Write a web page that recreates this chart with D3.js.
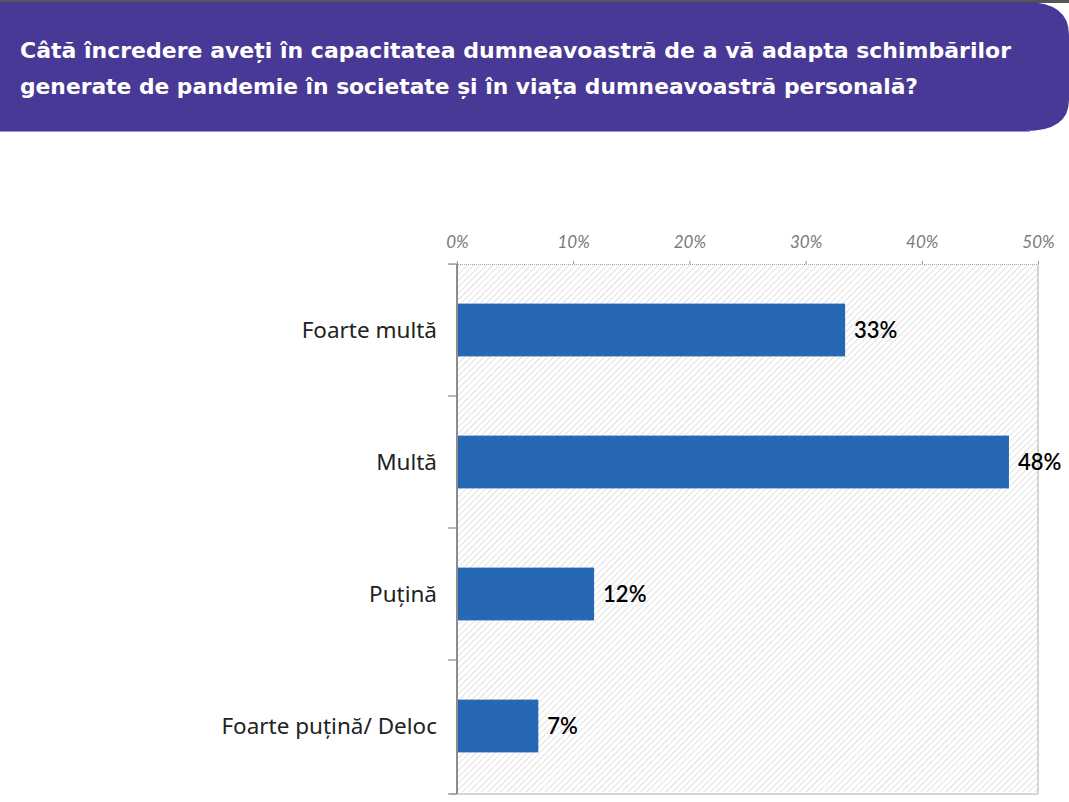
<!DOCTYPE html>
<html><head><meta charset="utf-8">
<script src="https://cdn.jsdelivr.net/npm/d3@7"></script>
<style>body{margin:0;background:#fff;overflow:hidden}svg{display:block}</style>
</head><body>
<script>
const titleLines = ["Câtă încredere aveți în capacitatea dumneavoastră de a vă adapta schimbărilor",
                    "generate de pandemie în societate și în viața dumneavoastră personală?"];
const categories = ["Foarte multă", "Multă", "Puțină", "Foarte puțină/ Deloc"];
const values = [33.4, 47.5, 11.8, 7.0];
const valueLabels = ["33%", "48%", "12%", "7%"];
const tickValues = [0, 10, 20, 30, 40, 50];
const tickLabels = ["0%", "10%", "20%", "30%", "40%", "50%"];

const W = 1069, H = 802;
const svg = d3.select("body").append("svg").attr("width", W).attr("height", H);

// Banner
svg.append("rect").attr("x",0).attr("y",0).attr("width",W).attr("height",3).attr("fill","#555");
svg.append("path")
  .attr("d", `M0,2 H1025 Q1069,2 1069,35 V100 Q1069,131 1025,131 H0 Z`)
  .attr("fill", "#483996");
svg.append("line").attr("x1",0).attr("x2",1030).attr("y1",131.5).attr("y2",131.5).attr("stroke","#9a93c4").attr("stroke-width",1);

const tl = [[20, 58, 991], [20, 94, 898]];
titleLines.forEach((t,i)=>{
  svg.append("text").attr("x", tl[i][0]).attr("y", tl[i][1])
    .attr("textLength", tl[i][2]).attr("lengthAdjust","spacingAndGlyphs")
    .attr("font-family","'DejaVu Sans', sans-serif").attr("font-weight","bold")
    .attr("font-size", 22).attr("fill","#fff").text(t);
});

// Scales
const x = d3.scaleLinear().domain([0,50]).range([457, 1038]);
const y = d3.scaleBand().domain(categories).range([264, 792]).paddingInner(0.6).paddingOuter(0.3);
const yb = d3.scaleBand().domain(categories).range([264, 792]);

// Hatch pattern
const defs = svg.append("defs");
const pat = defs.append("pattern").attr("id","hatch").attr("patternUnits","userSpaceOnUse")
  .attr("width",4.5).attr("height",4.5).attr("patternTransform","rotate(45)");
pat.append("rect").attr("width",4.5).attr("height",4.5).attr("fill","#fff");
pat.append("line").attr("x1",0).attr("y1",0).attr("x2",0).attr("y2",4.5).attr("stroke","#cfcfcf").attr("stroke-width",1.2);

svg.append("rect").attr("x", x(0)).attr("y", 264).attr("width", x(50)-x(0)).attr("height", 792-264)
  .attr("fill","url(#hatch)");
// border right & bottom
svg.append("line").attr("x1",x(50)).attr("x2",x(50)).attr("y1",264).attr("y2",794).attr("stroke","#c8c8c8").attr("stroke-width",1.5);
svg.append("line").attr("x1",450).attr("x2",x(50)).attr("y1",794).attr("y2",794).attr("stroke","#c8c8c8").attr("stroke-width",1.5);
svg.append("line").attr("x1",450).attr("x2",x(50)).attr("y1",264.5).attr("y2",264.5).attr("stroke","#aaa").attr("stroke-width",1).attr("stroke-dasharray","1,1");

// Top axis
const xAxis = d3.axisTop(x).tickValues(tickValues).tickFormat((d,i)=>tickLabels[i]).tickSize(3).tickPadding(13);
const gx = svg.append("g").attr("transform","translate(0,264)").call(xAxis);
gx.select(".domain").remove();
gx.selectAll(".tick line").attr("stroke","#999");
gx.selectAll(".tick text").attr("font-family","Lato, 'Open Sans', sans-serif").attr("font-style","italic")
  .attr("font-size",17).attr("fill","#7a7a7a");

// Left axis
const gy = svg.append("g").attr("transform",`translate(${x(0)},0)`);
gy.append("line").attr("x1",0).attr("x2",0).attr("y1",264).attr("y2",794).attr("stroke","#8c8c8c").attr("stroke-width",2);
const bounds = categories.map(c=>yb(c)).concat([794]);
gy.selectAll("line.tk").data(bounds).join("line").attr("class","tk")
  .attr("x1",-9).attr("x2",0).attr("y1",d=>d).attr("y2",d=>d).attr("stroke","#8c8c8c").attr("stroke-width",1.2);

// Category labels
svg.selectAll("text.cat").data(categories).join("text").attr("class","cat")
  .attr("x", 437).attr("y", d=>yb(d)+yb.bandwidth()/2).attr("dy","0.35em")
  .attr("text-anchor","end").attr("font-family","'Noto Sans', sans-serif").attr("font-size",22.5)
  .attr("fill","#222").text(d=>d);

// Bars
svg.selectAll("rect.bar").data(values).join("rect").attr("class","bar")
  .attr("x", x(0)+1).attr("y",(d,i)=>y(categories[i])).attr("height", y.bandwidth())
  .attr("width", d=>x(d)-x(0)-1).attr("fill","#2668b4");

// Value labels
svg.selectAll("text.val").data(values).join("text").attr("class","val")
  .attr("x", d=>x(d)+9).attr("y",(d,i)=>y(categories[i])+y.bandwidth()/2).attr("dy","0.36em")
  .attr("font-family","Lato, sans-serif").attr("font-size",22).attr("font-weight",600).attr("fill","#000")
  .text((d,i)=>valueLabels[i]);
</script>
</body></html>
